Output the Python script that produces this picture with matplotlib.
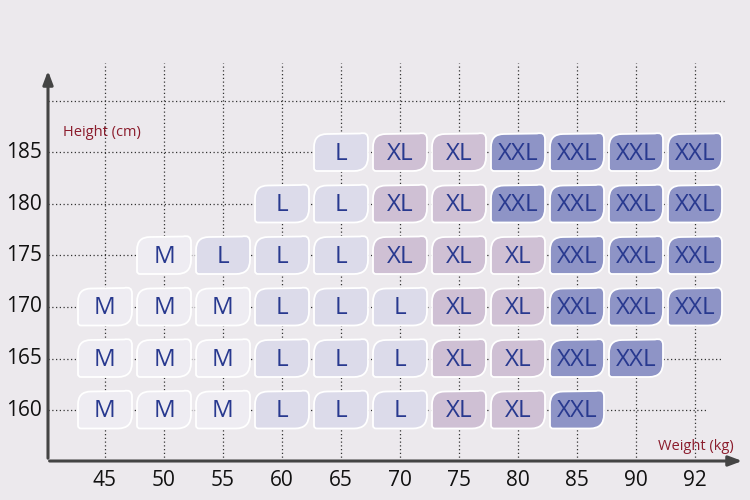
import matplotlib.pyplot as plt
from matplotlib.path import Path
from matplotlib.patches import PathPatch

# Size chart data
weights = ['45', '50', '55', '60', '65', '70', '75', '80', '85', '90', '92']
heights = ['160', '165', '170', '175', '180', '185']

# sizes per height row, starting at the given weight column index
row_start = [0, 0, 0, 1, 3, 4]
row_sizes = [
    ['M', 'M', 'M', 'L', 'L', 'L', 'XL', 'XL', 'XXL'],                        # 160
    ['M', 'M', 'M', 'L', 'L', 'L', 'XL', 'XL', 'XXL', 'XXL'],                 # 165
    ['M', 'M', 'M', 'L', 'L', 'L', 'XL', 'XL', 'XXL', 'XXL', 'XXL'],          # 170
    ['M', 'L', 'L', 'L', 'XL', 'XL', 'XL', 'XXL', 'XXL', 'XXL'],              # 175
    ['L', 'L', 'XL', 'XL', 'XXL', 'XXL', 'XXL', 'XXL'],                       # 180
    ['L', 'XL', 'XL', 'XXL', 'XXL', 'XXL', 'XXL'],                            # 185
]

size_colors = {'M': '#eeecf2', 'L': '#dcdbea', 'XL': '#cfc0d4', 'XXL': '#8e94c6'}
bg = '#ece9ed'
text_blue = '#28398f'
label_red = '#8b1c2c'
axis_col = '#444444'

fig = plt.figure(figsize=(7.5, 5), dpi=100)
fig.patch.set_facecolor(bg)
ax = fig.add_axes([0, 0, 1, 1])
ax.set_facecolor(bg)
ax.axis('off')

# one column = 59 px, one row = 51.5 px
px, py = 1 / 59, 1 / 51.5
ax.set_xlim(-105 * px, 645 * px)
ax.set_ylim(-90 * py, 410 * py)

n_cols = len(weights)
n_rows = len(heights)
x_axis = -57 * px
y_axis = -51 * py

# dotted grid (row lines stop at slightly different places)
row_line_end = [10.2, 10.45, 10.45, 10.45, 10.45, 10.45, 10.5]
for i in range(n_cols):
    ax.plot([i, i], [y_axis, 347 * py], ls=(0, (1, 2)), color='#333333', lw=0.9, zorder=1)
for j in range(n_rows + 1):
    ax.plot([x_axis, row_line_end[j]], [j, j], ls=(0, (1, 2)),
            color='#333333', lw=0.9, zorder=1)

# axes with arrows
ax.annotate('', xy=(x_axis, 342 * py), xytext=(x_axis, y_axis),
            arrowprops=dict(arrowstyle='-|>,head_width=0.3,head_length=0.8',
                            color=axis_col, lw=2.2), zorder=3)
ax.annotate('', xy=(640 * px, y_axis), xytext=(x_axis - 0.02, y_axis),
            arrowprops=dict(arrowstyle='-|>,head_width=0.3,head_length=0.8',
                            color=axis_col, lw=2.2), zorder=3)


def leaf(cx, cy):
    w, h = 27, 18.5
    r1, r2, r3 = 13, 14, 3
    pts = [(-w, -h + r3), (-w, h - r1), (-w, h), (-w + r1, h),
           (w - 8, h + 0.5), (w, h + 2.5), (w, h - 5),
           (w, -h + r2), (w, -h), (w - r2, -h),
           (-w + r3, -h), (-w, -h), (-w, -h + r3), (-w, -h + r3)]
    codes = [Path.MOVETO, Path.LINETO, Path.CURVE3, Path.CURVE3,
             Path.LINETO, Path.CURVE3, Path.CURVE3,
             Path.LINETO, Path.CURVE3, Path.CURVE3,
             Path.LINETO, Path.CURVE3, Path.CURVE3, Path.CLOSEPOLY]
    verts = [(cx + x * px, cy + y * py) for x, y in pts]
    return Path(verts, codes)


for j, sizes in enumerate(row_sizes):
    for k, s in enumerate(sizes):
        i = row_start[j] + k
        patch = PathPatch(leaf(i, j), facecolor=size_colors[s], edgecolor='white',
                          lw=1.3, zorder=4)
        ax.add_patch(patch)
        ax.text(i, j - 0.02, s, ha='center', va='center', fontsize=17.5, color=text_blue,
                family='Open Sans', zorder=5)

# tick labels
for i, w in enumerate(weights):
    ax.text(i, -70 * py, w, ha='center', va='center', fontsize=15, color='#111111',
            family='Open Sans')
for j, h in enumerate(heights):
    ax.text(-63 * px, j, h, ha='right', va='center', fontsize=15, color='#111111',
            family='Open Sans')

ax.text(-42 * px, 278 * py, 'Height (cm)', fontsize=10.5, color=label_red,
        family='Open Sans', va='center')
ax.text(629 * px, -36 * py, 'Weight (kg)', fontsize=10.5, color=label_red,
        family='Open Sans', va='center', ha='right')

fig.savefig('out.png', dpi=100, facecolor=bg)
